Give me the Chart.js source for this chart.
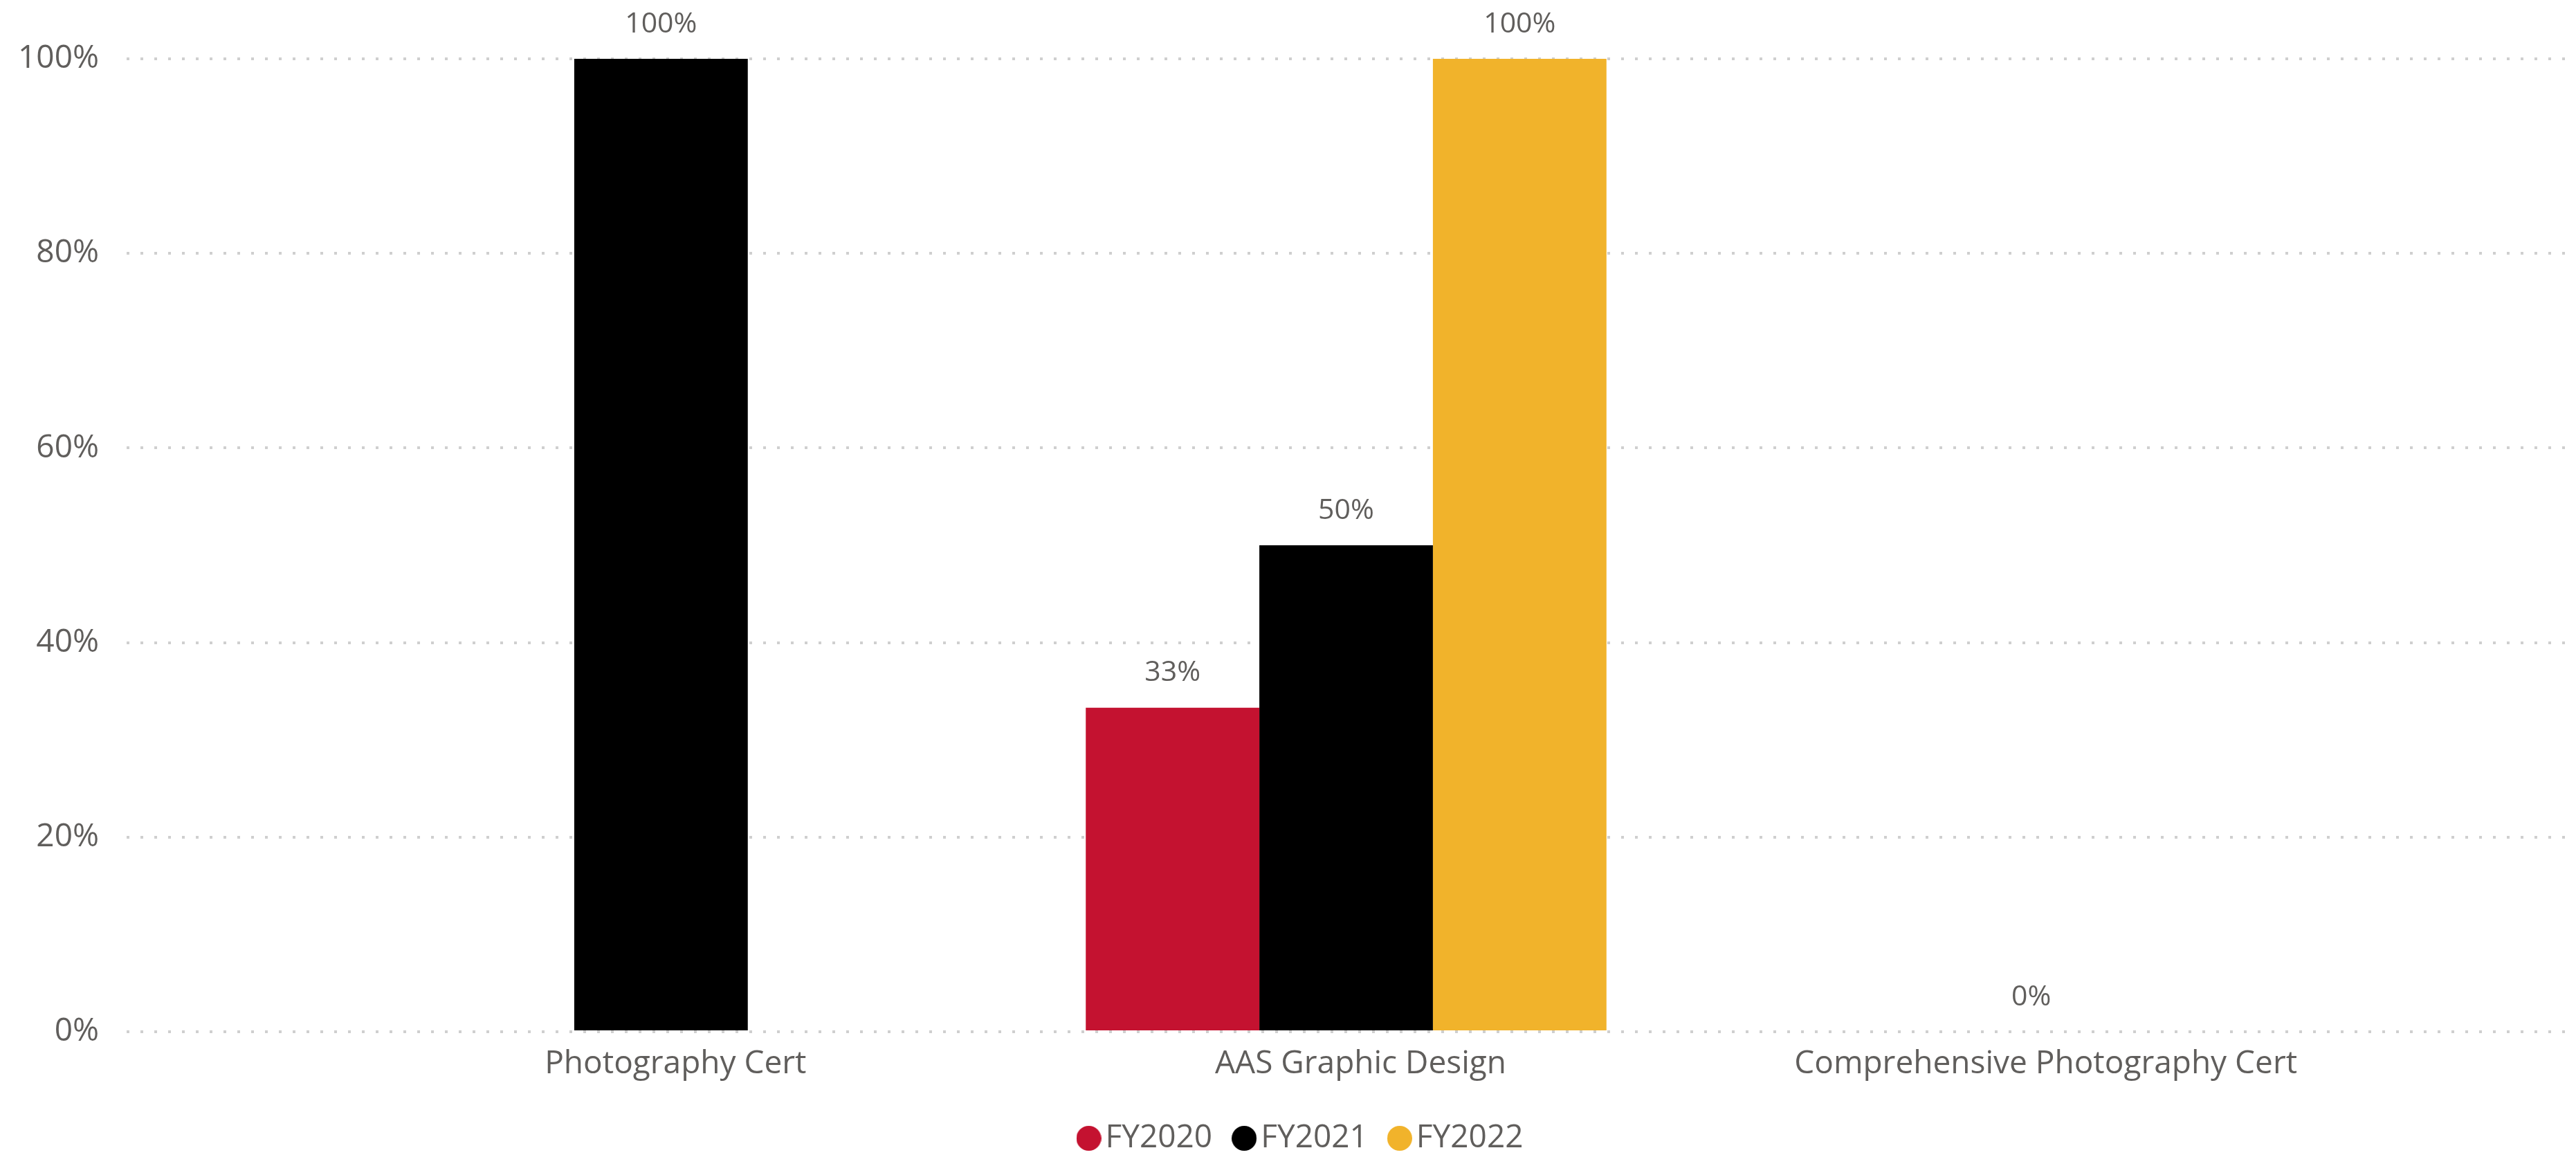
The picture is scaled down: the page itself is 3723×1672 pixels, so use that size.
<!DOCTYPE html>
<html>
<head>
<meta charset="utf-8">
<script src="https://cdn.jsdelivr.net/npm/chart.js@4"></script>
<style>
  html, body { margin: 0; padding: 0; background: #fff; }
</style>
</head>
<body>
<canvas id="chart" width="3723" height="1672"></canvas>
<script>
const categories = ['Photography Cert', 'AAS Graphic Design', 'Comprehensive Photography Cert'];
const seriesNames = ['FY2020', 'FY2021', 'FY2022'];
const fy2020 = [null, 33.3, null];
const fy2021 = [100, 50, 0];
const fy2022 = [null, 100, null];
const yTicks = [0, 20, 40, 60, 80, 100];

const colors = ['#C41230', '#000000', '#F1B32B'];
const textColor = '#605E5C';
const fontFamily = '"Segoe UI", "Open Sans", sans-serif';

// bars sit on a linear x axis so the categories can be padded in from the gridline ends
const toPoints = arr => arr.map((v, i) => ({ x: i, y: v }));

// round legend markers, drawn as little canvases so the text sits close to them
function dot(color) {
  const c = document.createElement('canvas');
  c.width = 36;
  c.height = 36;
  const g = c.getContext('2d');
  g.fillStyle = color;
  g.beginPath();
  g.arc(18, 18, 18, 0, Math.PI * 2);
  g.fill();
  return c;
}
const dots = colors.map(dot);

// value labels above each bar
const valueLabels = {
  id: 'valueLabels',
  afterDatasetsDraw(chart) {
    const ctx = chart.ctx;
    ctx.save();
    ctx.font = '41px ' + fontFamily;
    ctx.fillStyle = textColor;
    ctx.textAlign = 'center';
    ctx.textBaseline = 'middle';
    chart.data.datasets.forEach((ds, i) => {
      chart.getDatasetMeta(i).data.forEach((bar, j) => {
        const v = ds.data[j].y;
        if (v === null) return;
        ctx.fillText(Math.round(v) + '%', bar.x, bar.y - 50);
      });
    });
    ctx.restore();
  }
};

// nudge the legend right so it sits centred like the original
const legendShift = {
  id: 'legendShift',
  afterLayout(chart) {
    chart.legend.left += 33;
    chart.legend.right += 33;
  }
};

new Chart(document.getElementById('chart'), {
  type: 'bar',
  data: {
    datasets: [fy2020, fy2021, fy2022].map((arr, i) => ({
      label: seriesNames[i],
      data: toPoints(arr),
      backgroundColor: colors[i],
      borderWidth: 0,
      categoryPercentage: 0.76,
      barPercentage: 1
    }))
  },
  options: {
    responsive: false,
    animation: false,
    layout: { padding: { top: 85, right: 15, bottom: -6, left: 0 } },
    plugins: {
      tooltip: { enabled: false },
      legend: {
        position: 'bottom',
        labels: {
          usePointStyle: true,
          pointStyleWidth: 2,
          padding: 45,
          color: textColor,
          font: { family: fontFamily, size: 46 },
          generateLabels: chart =>
            Chart.defaults.plugins.legend.labels.generateLabels(chart)
              .map((l, i) => ({ ...l, pointStyle: dots[i] }))
        }
      }
    },
    scales: {
      x: {
        type: 'linear',
        min: -0.78,
        max: 2.78,
        offset: false,
        grid: { display: false },
        border: { display: false },
        afterBuildTicks: s => { s.ticks = categories.map((c, i) => ({ value: i })); },
        ticks: {
          callback: v => categories[v],
          color: textColor,
          font: { family: fontFamily, size: 46, lineHeight: 1 },
          padding: 16,
          labelOffset: 21,
          maxRotation: 0,
          autoSkip: false
        }
      },
      y: {
        min: 0,
        max: 100,
        afterBuildTicks: s => { s.ticks = yTicks.map(v => ({ value: v })); },
        afterFit: s => { s.width = 183; },
        grid: { color: '#CFCFCF', lineWidth: 4, drawTicks: false },
        border: { display: false, dash: [4, 16] },
        ticks: {
          callback: v => v + '%',
          color: textColor,
          font: { family: fontFamily, size: 46 },
          padding: 40
        }
      }
    }
  },
  plugins: [valueLabels, legendShift]
});
</script>
</body>
</html>
